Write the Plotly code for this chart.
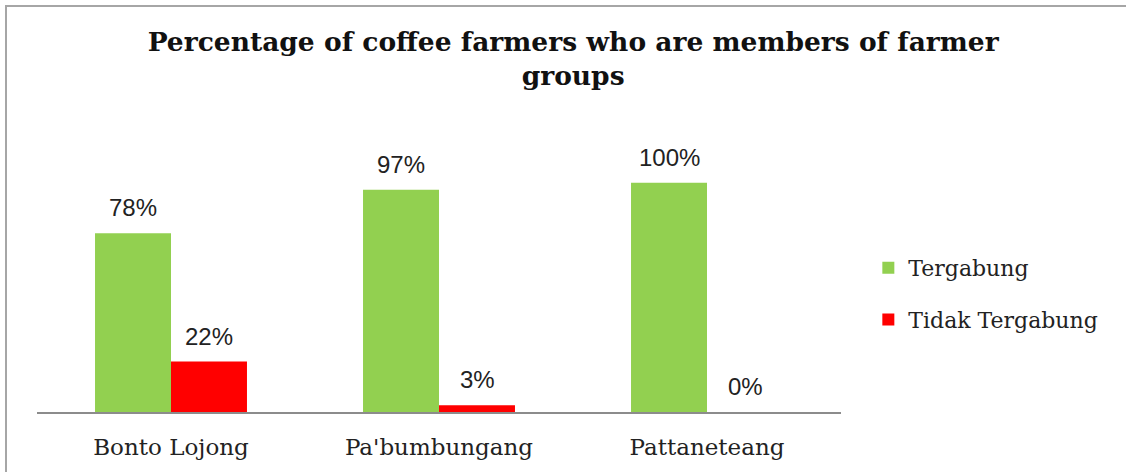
import plotly.graph_objects as go

# Share of coffee farmers in farmer groups, by village
villages = ["Bonto Lojong", "Pa'bumbungang", "Pattaneteang"]
tergabung = [78, 97, 100]
tidak_tergabung = [22, 3, 0]
series_names = ["Tergabung", "Tidak Tergabung"]
title_text = "Percentage of coffee farmers who are members of farmer<br>groups"

GREEN = "#92D050"
RED = "#FF0000"
SERIF = "DejaVu Serif"
SANS = "Liberation Sans"

fig = go.Figure()
for name, vals, col in [(series_names[0], tergabung, GREEN),
                        (series_names[1], tidak_tergabung, RED)]:
    fig.add_trace(go.Bar(
        name=name, x=villages, y=vals, marker=dict(color=col, line=dict(width=0)),
        legendgroup=name, hoverinfo="skip",
    ))

# value labels above each bar
annotations = []
for vals, shift in [(tergabung, -38), (tidak_tergabung, 38)]:
    for v, cat in zip(vals, villages):
        annotations.append(dict(
            x=cat, y=v, xref="x", yref="y", text=f"{v}%", showarrow=False,
            xshift=shift, yanchor="bottom", yshift=10,
            font=dict(family=SANS, size=24, color="#222222"),
        ))

fig.update_layout(
    width=1126, height=472,
    margin=dict(l=37, r=285, t=137, b=60),
    paper_bgcolor="white", plot_bgcolor="white",
    barmode="group", bargap=0.433, bargroupgap=0,
    title=dict(text=f"<b>{title_text}</b>", x=0.509, xanchor="center",
               y=0.892, yanchor="middle", yref="container",
               font=dict(family=SERIF, size=26.5, color="#111111")),
    xaxis=dict(showline=True, linecolor="#8C8C8C", linewidth=1.5,
               ticks="", ticklabelstandoff=14,
               tickfont=dict(family=SERIF, size=23, color="#222222"),
               showgrid=False),
    yaxis=dict(range=[0, 120], visible=False, showgrid=False, zeroline=False),
    legend=dict(x=1.034, y=0.6, xanchor="left", yanchor="top",
                font=dict(family=SERIF, size=22, color="#222222"),
                tracegroupgap=20, traceorder="grouped"),
    annotations=annotations,
    # outer chart frame (top and left edges fall inside the page)
    shapes=[dict(type="rect", xref="paper", yref="paper",
                 x0=(6 - 37) / 804, x1=1.6, y0=-0.6, y1=(412 - 6) / 275,
                 line=dict(color="#A6A6A6", width=2), fillcolor="rgba(0,0,0,0)",
                 layer="below")],
    showlegend=True,
)

fig.write_html("out.html")
